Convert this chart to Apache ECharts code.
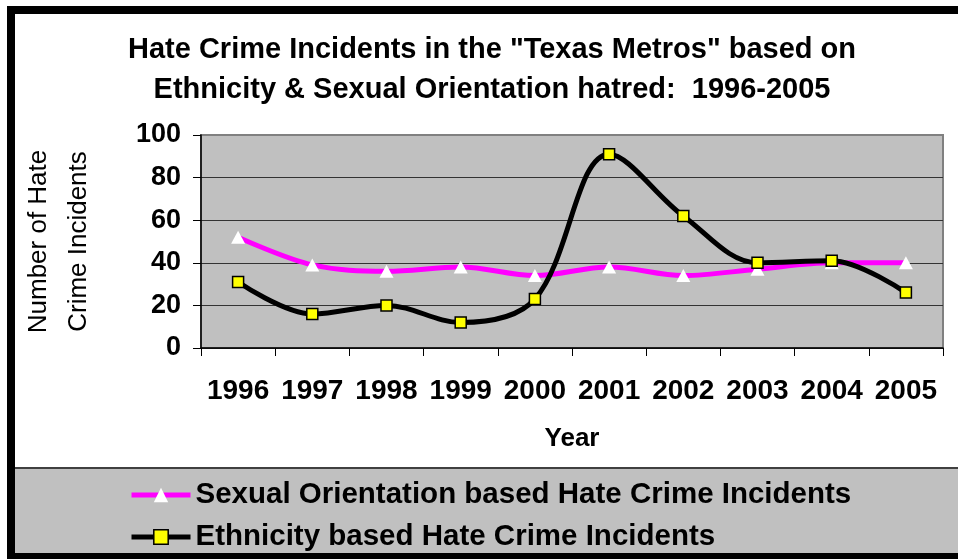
<!DOCTYPE html>
<html>
<head>
<meta charset="utf-8">
<script src="https://cdn.jsdelivr.net/npm/echarts@6/dist/echarts.min.js"></script>
<style>
  html, body { margin: 0; padding: 0; background: #fff; }
  #chart { width: 958px; height: 559px; }
</style>
</head>
<body>
<div id="chart"></div>
<script>
// data
var years = ['1996', '1997', '1998', '1999', '2000', '2001', '2002', '2003', '2004', '2005'];
var sexualOrientation = [52, 39, 36, 38, 34, 38, 34, 37, 40, 40];
var ethnicity = [31, 16, 20, 12, 23, 91, 62, 40, 41, 26];
var yTicks = [0, 20, 40, 60, 80, 100];

var FONT = 'Liberation Sans, Arial, sans-serif';

var myChart = echarts.init(document.getElementById('chart'));

var option = {
  backgroundColor: '#fff',
  animation: false,
  title: {
    text: 'Hate Crime Incidents in the "Texas Metros" based on\nEthnicity & Sexual Orientation hatred:  1996-2005',
    left: 487,
    top: 25,
    textAlign: 'center',
    textStyle: {
      fontFamily: FONT,
      fontWeight: 'bold',
      fontSize: 29,
      lineHeight: 40,
      color: '#000'
    }
  },
  graphic: [
    { // legend band
      type: 'rect',
      z: 0,
      shape: { x: 11, y: 468, width: 960, height: 95 },
      style: { fill: '#C0C0C0', stroke: '#404040', lineWidth: 2 }
    },
    { // outer black frame
      type: 'rect',
      z: 100,
      shape: { x: 11, y: 10, width: 960, height: 547 },
      style: { fill: 'none', stroke: '#000', lineWidth: 8 }
    }
  ],
  legend: {
    orient: 'vertical',
    left: 124,
    top: 475,
    height: 200,
    itemWidth: 59,
    itemHeight: 18,
    itemGap: 12,
    lineStyle: { width: 5 },
    data: [
      { name: 'Sexual Orientation based Hate Crime Incidents', itemStyle: { borderWidth: 0 } },
      { name: 'Ethnicity based Hate Crime Incidents', itemStyle: { borderColor: '#000', borderWidth: 1.5 } }
    ],
    textStyle: {
      fontFamily: FONT,
      fontWeight: 'bold',
      fontSize: 29.5,
      color: '#000'
    }
  },
  grid: {
    left: 201,
    right: 15,
    top: 135,
    bottom: 211,
    show: true,
    backgroundColor: '#C0C0C0',
    borderColor: '#808080',
    borderWidth: 2
  },
  xAxis: {
    type: 'category',
    data: years,
    boundaryGap: true,
    name: 'Year',
    nameLocation: 'middle',
    nameGap: 78,
    nameTextStyle: {
      fontFamily: FONT,
      fontWeight: 'bold',
      fontSize: 26,
      color: '#000'
    },
    axisLine: { lineStyle: { color: '#000', width: 1.5 } },
    axisTick: { show: true, length: 8, lineStyle: { color: '#000', width: 1 } },
    axisLabel: {
      interval: 0,
      margin: 29,
      fontFamily: FONT,
      fontWeight: 'bold',
      fontSize: 28,
      color: '#000'
    }
  },
  yAxis: {
    type: 'value',
    min: 0,
    max: 100,
    interval: 20,
    name: 'Number of Hate\nCrime Incidents',
    nameLocation: 'middle',
    nameRotate: 90,
    nameGap: 102,
    nameTextStyle: {
      fontFamily: FONT,
      fontSize: 26,
      lineHeight: 40,
      color: '#000'
    },
    axisLine: { show: true, lineStyle: { color: '#000', width: 1.5 } },
    axisTick: { show: true, length: 8, lineStyle: { color: '#000', width: 1 } },
    splitLine: {
      show: true,
      lineStyle: { color: ['#333', '#333', '#333', '#333', '#333', '#808080'], width: 1 }
    },
    axisLabel: {
      margin: 20,
      fontFamily: FONT,
      fontWeight: 'bold',
      fontSize: 27,
      color: '#000',
      formatter: function (v) {
        return yTicks.indexOf(v) >= 0 ? String(v) : ''
      }
    }
  },
  series: [
    {
      name: 'Sexual Orientation based Hate Crime Incidents',
      type: 'line',
      data: sexualOrientation,
      smooth: 0.35,
      z: 2,
      lineStyle: { color: '#FF00FF', width: 5 },
      symbol: 'triangle',
      symbolSize: [14, 13],
      itemStyle: { color: '#FFFFFF', borderWidth: 0 }
    },
    {
      name: 'Ethnicity based Hate Crime Incidents',
      type: 'line',
      data: ethnicity,
      smooth: 0.35,
      z: 3,
      lineStyle: { color: '#000000', width: 5 },
      symbol: 'rect',
      symbolSize: 11,
      itemStyle: { color: '#FFFF00', borderColor: '#000', borderWidth: 1.5 }
    }
  ]
};

myChart.setOption(option);
window.addEventListener('resize', function () {
  myChart.resize()
});
</script>
</body>
</html>
